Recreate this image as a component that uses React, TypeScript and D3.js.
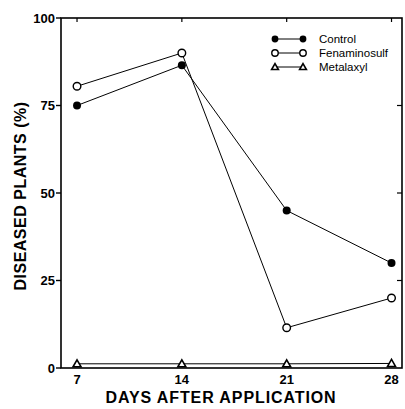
import React from "react";
import * as d3 from "d3";

const days = [7, 14, 21, 28];
const control = [75, 86.5, 45, 30];
const fenaminosulf = [80.5, 90, 11.5, 20];
const metalaxyl = [1.2, 1.2, 1.2, 1.3];
const yTicks = [0, 25, 50, 75, 100];
const legendLabels = ["Control", "Fenaminosulf", "Metalaxyl"];

const width = 405;
const height = 409;
const margin = { top: 18, right: 3, bottom: 41, left: 61 };

const x = d3
  .scaleLinear()
  .domain([5.93, 28.7])
  .range([margin.left, width - margin.right]);
const y = d3
  .scaleLinear()
  .domain([0, 100])
  .range([height - margin.bottom, margin.top]);

const font = "'Liberation Sans', Arial, Helvetica, sans-serif";

function Marker({ kind, cx, cy, size = 1 }: { kind: number; cx: number; cy: number; size?: number }) {
  if (kind === 0) return <circle cx={cx} cy={cy} r={4 * size} fill="#000" />;
  if (kind === 1)
    return <circle cx={cx} cy={cy} r={3.8 * size} fill="#fff" stroke="#000" strokeWidth={1.4} />;
  const s = 4 * size;
  return (
    <path
      d={`M${cx},${cy - s} L${cx + s},${cy + s * 0.75} L${cx - s},${cy + s * 0.75}Z`}
      fill="#fff"
      stroke="#000"
      strokeWidth={1.6}
    />
  );
}

export default function App() {
  const series = [control, fenaminosulf, metalaxyl];
  const line = d3
    .line<number>()
    .x((_, i) => x(days[i]))
    .y((d) => y(d));
  const x0 = margin.left;
  const x1 = width - margin.right;
  const y0 = height - margin.bottom;
  const y1 = margin.top;

  return (
    <svg
      width={width}
      height={height}
      style={{ position: "absolute", left: 0, top: 0, background: "#fff" }}
      fontFamily={font}
    >
      <rect x={x0} y={y1} width={x1 - x0} height={y0 - y1} fill="none" stroke="#000" strokeWidth={1.6} />

      {yTicks.map((t) => (
        <g key={t}>
          <line x1={x0 - 5} x2={x0} y1={y(t)} y2={y(t)} stroke="#000" strokeWidth={1.4} />
          {t > 0 && t < 100 && (
            <line x1={x1 - 5} x2={x1} y1={y(t)} y2={y(t)} stroke="#000" strokeWidth={1.2} />
          )}
          <text x={x0 - 6} y={y(t)} dy="0.35em" textAnchor="end" fontSize={13} fontWeight="bold">
            {t}
          </text>
        </g>
      ))}

      {days.map((d) => (
        <g key={d}>
          <line x1={x(d)} x2={x(d)} y1={y1} y2={y1 + 4} stroke="#000" strokeWidth={1.2} />
          <text x={x(d)} y={y0 + 16} textAnchor="middle" fontSize={13} fontWeight="bold">
            {d}
          </text>
        </g>
      ))}

      {series.map((s, k) => (
        <g key={k}>
          <path d={line(s) || ""} fill="none" stroke="#000" strokeWidth={1} />
          {s.map((v, i) => (
            <Marker key={i} kind={k} cx={x(days[i])} cy={y(v)} />
          ))}
        </g>
      ))}

      {legendLabels.map((l, k) => {
        const ly = 39 + k * 14;
        return (
          <g key={l}>
            <line x1={275} x2={303} y1={ly} y2={ly} stroke="#000" strokeWidth={1} />
            <Marker kind={k} cx={275} cy={ly} size={0.85} />
            <Marker kind={k} cx={303} cy={ly} size={0.85} />
            <text x={319} y={ly} dy="0.35em" fontSize={11.5}>
              {l}
            </text>
          </g>
        );
      })}

      <text
        x={221}
        y={403}
        textAnchor="middle"
        fontSize={16}
        fontWeight="bold"
        letterSpacing={0.9}
      >
        DAYS AFTER APPLICATION
      </text>
      <text
        transform={`translate(20,${(y0 + y1) / 2 + 3}) rotate(-90)`}
        textAnchor="middle"
        fontSize={16}
        fontWeight="bold"
        letterSpacing={0.5}
        dy="0.35em"
      >
        DISEASED PLANTS (%)
      </text>
    </svg>
  );
}
